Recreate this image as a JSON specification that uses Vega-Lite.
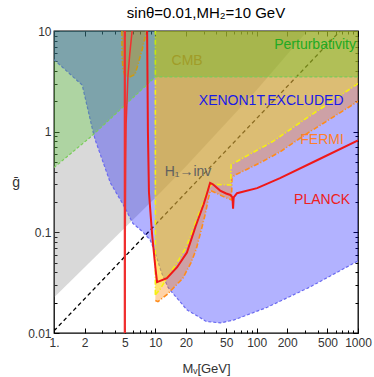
{
  "$schema": "https://vega.github.io/schema/vega-lite/v6.json",
  "width": 304,
  "height": 302,
  "autosize": {"type": "none"},
  "padding": {"left": 54, "top": 31, "right": 16, "bottom": 44},
  "title": {"text": "sinθ=0.01,MH₂=10 GeV", "fontSize": 15, "font": "Liberation Sans", "fontWeight": "normal", "offset": 4, "anchor": "middle", "frame": "group", "color": "black"},
  "config": {
    "view": {"stroke": "black", "strokeWidth": 1.3},
    "axis": {"labelFont": "Liberation Sans", "labelFontSize": 12, "labelColor": "#333", "titleFont": "Liberation Sans", "titleFontWeight": "normal", "titleColor": "#333", "tickColor": "black", "domain": false, "grid": false, "labelOverlap": false, "labelFlush": false, "labelBound": false}
  },
  "datasets": {
    "bline": [{"mv": 1, "g": 0.0105}, {"mv": 666, "g": 10}],
    "gray": [{"mv": 1, "g": 0.0225}, {"mv": 10, "g": 0.22}, {"mv": 20, "g": 0.45}, {"mv": 100, "g": 2.6}, {"mv": 316, "g": 10}],
    "green": [{"mv": 1, "g": 0.44}, {"mv": 2.4, "g": 0.92}, {"mv": 10, "g": 3.5}, {"mv": 1000, "g": 3.5}],
    "blue": [{"mv": 1, "g": 5.2}, {"mv": 1.9, "g": 2.9}, {"mv": 2.4, "g": 1.05}, {"mv": 2.55, "g": 0.83}, {"mv": 3.6, "g": 0.31}, {"mv": 4.8, "g": 0.19}, {"mv": 6, "g": 0.123}, {"mv": 7.6, "g": 0.1}, {"mv": 8.9, "g": 0.084}, {"mv": 10, "g": 0.062}, {"mv": 11.5, "g": 0.04}, {"mv": 13.3, "g": 0.0286}, {"mv": 14, "g": 0.0267}, {"mv": 20.5, "g": 0.017}, {"mv": 32, "g": 0.013}, {"mv": 44, "g": 0.0126}, {"mv": 60, "g": 0.0135}, {"mv": 127, "g": 0.018}, {"mv": 335, "g": 0.0286}, {"mv": 1000, "g": 0.052}],
    "orange": [{"mv": 10, "g": 0.021}, {"mv": 10.6, "g": 0.0205}, {"mv": 13, "g": 0.024}, {"mv": 18.7, "g": 0.035}, {"mv": 22.5, "g": 0.05}, {"mv": 25.2, "g": 0.067}, {"mv": 28, "g": 0.1}, {"mv": 31, "g": 0.15}, {"mv": 33.5, "g": 0.22}, {"mv": 35, "g": 0.26}, {"mv": 40, "g": 0.245}, {"mv": 50, "g": 0.22}, {"mv": 56.5, "g": 0.21}, {"mv": 57, "g": 0.35}, {"mv": 61, "g": 0.37}, {"mv": 108, "g": 0.49}, {"mv": 170, "g": 0.63}, {"mv": 300, "g": 0.93}, {"mv": 1000, "g": 2.0}],
    "orange2": [{"mv": 4.68, "g": 10}, {"mv": 4.7, "g": 5.5}, {"mv": 4.8, "g": 4.2}, {"mv": 5.0, "g": 3.6}, {"mv": 5.6, "g": 3.5}, {"mv": 6.3, "g": 3.7}, {"mv": 6.8, "g": 4.8}, {"mv": 7.4, "g": 6.5}, {"mv": 7.9, "g": 8.5}, {"mv": 8.1, "g": 10}],
    "yellow": [{"mv": 10, "g": 0.024}, {"mv": 11.1, "g": 0.027}, {"mv": 13, "g": 0.035}, {"mv": 16.4, "g": 0.05}, {"mv": 20, "g": 0.07}, {"mv": 22, "g": 0.089}, {"mv": 26, "g": 0.14}, {"mv": 30, "g": 0.2}, {"mv": 33, "g": 0.27}, {"mv": 36, "g": 0.3}, {"mv": 55.5, "g": 0.295}, {"mv": 56, "g": 0.47}, {"mv": 108, "g": 0.68}, {"mv": 145, "g": 0.8}, {"mv": 300, "g": 1.33}, {"mv": 1000, "g": 3.0}],
    "yrule": [{"mv": 10, "g": 0.024, "g2": 10}],
    "rrule": [{"mv": 5, "g": 0.01, "g2": 10}],
    "redB": [{"mv": 5.02, "g": 0.01}, {"mv": 5.05, "g": 0.1}, {"mv": 5.1, "g": 0.5}, {"mv": 5.15, "g": 1.2}, {"mv": 5.37, "g": 3.6}, {"mv": 5.6, "g": 6}, {"mv": 5.9, "g": 10}],
    "redC": [{"mv": 8.3, "g": 10}, {"mv": 8.45, "g": 1}, {"mv": 8.65, "g": 0.25}, {"mv": 9.3, "g": 0.094}, {"mv": 10, "g": 0.045}, {"mv": 10.4, "g": 0.032}, {"mv": 13, "g": 0.035}, {"mv": 16.4, "g": 0.045}, {"mv": 20.5, "g": 0.063}, {"mv": 25, "g": 0.115}, {"mv": 30, "g": 0.19}, {"mv": 33, "g": 0.26}, {"mv": 34.7, "g": 0.31}, {"mv": 37, "g": 0.3}, {"mv": 43.6, "g": 0.26}, {"mv": 50, "g": 0.243}, {"mv": 55, "g": 0.235}, {"mv": 57.7, "g": 0.222}, {"mv": 58.5, "g": 0.172}, {"mv": 59.3, "g": 0.222}, {"mv": 64, "g": 0.245}, {"mv": 101, "g": 0.275}, {"mv": 170, "g": 0.345}, {"mv": 394, "g": 0.52}, {"mv": 1000, "g": 0.82}],
    "labels": [
      {"mv": 377, "g": 7.24, "label": "Perturbativity"},
      {"mv": 20.6, "g": 5.0, "label": "CMB"},
      {"mv": 139, "g": 2.0, "label": "XENON1T.EXCLUDED"},
      {"mv": 442, "g": 0.83, "label": "FERMI"},
      {"mv": 442, "g": 0.21, "label": "PLANCK"},
      {"mv": 21, "g": 0.40, "label": "H₁→inv"}
    ]
  },
  "resolve": {"axis": {"x": "independent", "y": "independent"}},
  "layer": [
    {
      "data": {"name": "bline"},
      "mark": {"type": "line", "color": "black", "strokeWidth": 1.3, "strokeDash": [4, 3], "clip": true},
      "encoding": {
        "x": {"field": "mv", "type": "quantitative", "scale": {"type": "log", "domain": [1, 1000], "nice": false},
          "axis": {"orient": "bottom", "values": [1, 2, 5, 10, 20, 50, 100, 200, 500, 1000], "labelExpr": "datum.value == 1 ? '1.' : format(datum.value, 'd')", "tickSize": -5, "labelPadding": 9, "title": "Mᵥ[GeV]", "titleFontSize": 13, "titlePadding": 14}},
        "y": {"field": "g", "type": "quantitative", "scale": {"type": "log", "domain": [0.01, 10], "nice": false},
          "axis": {"orient": "left", "values": [0.01, 0.1, 1, 10], "labelExpr": "format(datum.value, '~g')", "tickSize": -5, "labelPadding": 8, "title": "ḡ", "titleAngle": 0, "titleFontSize": 14, "titleAlign": "center", "titleBaseline": "middle", "titlePadding": 12}}
      }
    },
    {
      "data": {"name": "gray"},
      "mark": {"type": "area", "color": "#808080", "opacity": 0.3, "clip": true},
      "encoding": {
        "x": {"field": "mv", "type": "quantitative", "axis": {"orient": "top", "values": [1, 2, 5, 10, 20, 50, 100, 200, 500, 1000], "labels": false, "tickSize": -5, "title": null}},
        "y": {"field": "g", "type": "quantitative", "axis": {"orient": "right", "values": [0.01, 0.1, 1, 10], "labels": false, "tickSize": -5, "title": null}},
        "y2": {"datum": 10}
      }
    },
    {
      "data": {"name": "blue"},
      "mark": {"type": "area", "color": "#0000ff", "opacity": 0.3, "clip": true},
      "encoding": {
        "x": {"field": "mv", "type": "quantitative", "axis": {"orient": "bottom", "values": [3, 4, 6, 7, 8, 9, 30, 40, 60, 70, 80, 90, 300, 400, 600, 700, 800, 900], "labels": false, "tickSize": -3, "title": null}},
        "y": {"field": "g", "type": "quantitative", "axis": {"orient": "left", "values": [0.02, 0.03, 0.04, 0.05, 0.06, 0.07, 0.08, 0.09, 0.2, 0.3, 0.4, 0.5, 0.6, 0.7, 0.8, 0.9, 2, 3, 4, 5, 6, 7, 8, 9], "labels": false, "tickSize": -3, "title": null}},
        "y2": {"datum": 10}
      }
    },
    {
      "data": {"name": "blue"},
      "mark": {"type": "line", "color": "#6a6af0", "strokeWidth": 1.2, "strokeDash": [3, 2], "clip": true},
      "encoding": {
        "x": {"field": "mv", "type": "quantitative", "axis": null},
        "y": {"field": "g", "type": "quantitative", "axis": null}
      }
    },
    {
      "data": {"name": "orange"},
      "mark": {"type": "area", "color": "#ff8000", "opacity": 0.35, "clip": true},
      "encoding": {
        "x": {"field": "mv", "type": "quantitative", "axis": {"orient": "top", "values": [3, 4, 6, 7, 8, 9, 30, 40, 60, 70, 80, 90, 300, 400, 600, 700, 800, 900], "labels": false, "tickSize": -3, "title": null}},
        "y": {"field": "g", "type": "quantitative", "axis": {"orient": "right", "values": [0.02, 0.03, 0.04, 0.05, 0.06, 0.07, 0.08, 0.09, 0.2, 0.3, 0.4, 0.5, 0.6, 0.7, 0.8, 0.9, 2, 3, 4, 5, 6, 7, 8, 9], "labels": false, "tickSize": -3, "title": null}},
        "y2": {"datum": 10}
      }
    },
    {
      "data": {"name": "orange"},
      "mark": {"type": "line", "color": "#ff8c1a", "strokeWidth": 1.6, "strokeDash": [5, 2, 1, 2], "clip": true},
      "encoding": {
        "x": {"field": "mv", "type": "quantitative", "axis": null},
        "y": {"field": "g", "type": "quantitative", "axis": null}
      }
    },
    {
      "data": {"name": "orange2"},
      "mark": {"type": "area", "color": "#ff8000", "opacity": 0.35, "clip": true},
      "encoding": {
        "x": {"field": "mv", "type": "quantitative", "axis": null},
        "y": {"field": "g", "type": "quantitative", "axis": null},
        "y2": {"datum": 10}
      }
    },
    {
      "data": {"name": "orange2"},
      "mark": {"type": "line", "color": "#ff8c1a", "strokeWidth": 1.6, "strokeDash": [5, 2, 1, 2], "clip": true},
      "encoding": {
        "x": {"field": "mv", "type": "quantitative", "axis": null},
        "y": {"field": "g", "type": "quantitative", "axis": null}
      }
    },
    {
      "data": {"name": "yellow"},
      "mark": {"type": "area", "color": "#ffff00", "opacity": 0.3, "clip": true},
      "encoding": {
        "x": {"field": "mv", "type": "quantitative", "axis": null},
        "y": {"field": "g", "type": "quantitative", "axis": null},
        "y2": {"datum": 10}
      }
    },
    {
      "data": {"name": "yellow"},
      "mark": {"type": "line", "color": "#f5f010", "strokeWidth": 1.6, "strokeDash": [5, 2, 1, 2], "clip": true},
      "encoding": {
        "x": {"field": "mv", "type": "quantitative", "axis": null},
        "y": {"field": "g", "type": "quantitative", "axis": null}
      }
    },
    {
      "data": {"name": "yrule"},
      "mark": {"type": "rule", "color": "#f5f010", "strokeWidth": 1.6, "strokeDash": [5, 2, 1, 2], "clip": true},
      "encoding": {
        "x": {"field": "mv", "type": "quantitative", "axis": null},
        "y": {"field": "g", "type": "quantitative", "axis": null},
        "y2": {"field": "g2"}
      }
    },
    {
      "data": {"name": "green"},
      "mark": {"type": "area", "color": "#30c800", "opacity": 0.25, "clip": true},
      "encoding": {
        "x": {"field": "mv", "type": "quantitative", "axis": null},
        "y": {"field": "g", "type": "quantitative", "axis": null},
        "y2": {"datum": 10}
      }
    },
    {
      "data": {"name": "green"},
      "mark": {"type": "line", "color": "#7acc5a", "strokeWidth": 1.2, "strokeDash": [3, 2], "clip": true},
      "encoding": {
        "x": {"field": "mv", "type": "quantitative", "axis": null},
        "y": {"field": "g", "type": "quantitative", "axis": null}
      }
    },
    {
      "data": {"name": "rrule"},
      "mark": {"type": "rule", "color": "#f03030", "strokeWidth": 2.2, "clip": true},
      "encoding": {
        "x": {"field": "mv", "type": "quantitative", "axis": null},
        "y": {"field": "g", "type": "quantitative", "axis": null},
        "y2": {"field": "g2"}
      }
    },
    {
      "data": {"name": "redB"},
      "mark": {"type": "line", "color": "#f03030", "strokeWidth": 1.5, "clip": true},
      "encoding": {
        "x": {"field": "mv", "type": "quantitative", "axis": null},
        "y": {"field": "g", "type": "quantitative", "axis": null}
      }
    },
    {
      "data": {"name": "redC"},
      "mark": {"type": "line", "color": "#f01818", "strokeWidth": 2, "clip": true},
      "encoding": {
        "x": {"field": "mv", "type": "quantitative", "axis": null},
        "y": {"field": "g", "type": "quantitative", "axis": null}
      }
    },
    {
      "data": {"name": "labels"},
      "mark": {"type": "text", "font": "Liberation Sans", "fontSize": 14, "align": "center", "baseline": "middle"},
      "encoding": {
        "x": {"field": "mv", "type": "quantitative", "axis": null},
        "y": {"field": "g", "type": "quantitative", "axis": null},
        "text": {"field": "label"},
        "color": {"field": "label", "type": "nominal", "legend": null,
          "scale": {"domain": ["Perturbativity", "CMB", "XENON1T.EXCLUDED", "FERMI", "PLANCK", "H₁→inv"], "range": ["#22aa22", "#a09c28", "#1a1ae6", "#ff7f2a", "#ee2020", "#606060"]}}
      }
    }
  ]
}
